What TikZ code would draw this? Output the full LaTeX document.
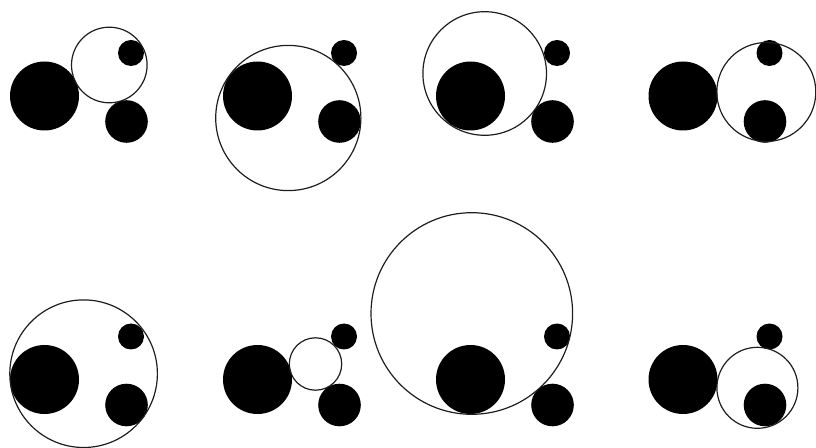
\documentclass[tikz,border=0pt]{standalone}
\usepackage{tikz}
\usepackage{xcolor}

\begin{document}
\begin{tikzpicture}[x=0.75pt,y=0.75pt,yscale=-1,xscale=1,
  blob/.style={fill={rgb, 255:red, 0; green, 0; blue, 0 }, draw=none},
  touching/.style={draw={rgb, 255:red, 30; green, 30; blue, 30 }, line width=0.9pt}]
%set diagram left start at 0, and has height of 448
\useasboundingbox (0,0) rectangle (816,448);

%Panel 1
\fill [blob] (44.5,96) circle [radius=34.5];
\fill [blob] (131,53) circle [radius=13];
\fill [blob] (126.5,121.5) circle [radius=21.3];
\draw [touching] (109.3,65) circle [radius=37.8];

%Panel 2
\fill [blob] (257.5,96) circle [radius=34.5];
\fill [blob] (344,53) circle [radius=13];
\fill [blob] (339.5,121.5) circle [radius=21.3];
\draw [touching] (288.3,118) circle [radius=72.6];

%Panel 3
\fill [blob] (470.5,96) circle [radius=34.5];
\fill [blob] (557,53) circle [radius=13];
\fill [blob] (552.5,121.5) circle [radius=21.3];
\draw [touching] (484.7,73.5) circle [radius=61.8];

%Panel 4
\fill [blob] (683,96) circle [radius=34.5];
\fill [blob] (769.5,53) circle [radius=13];
\fill [blob] (765,121.5) circle [radius=21.3];
\draw [touching] (766.3,92) circle [radius=49.5];

%Panel 5
\fill [blob] (44.5,379.5) circle [radius=34.5];
\fill [blob] (131,336.5) circle [radius=13];
\fill [blob] (126.5,405) circle [radius=21.3];
\draw [touching] (83.6,373.7) circle [radius=73.8];

%Panel 6
\fill [blob] (257.5,379.5) circle [radius=34.5];
\fill [blob] (344,336.5) circle [radius=13];
\fill [blob] (339.5,405) circle [radius=21.3];
\draw [touching] (315.5,364) circle [radius=26.2];

%Panel 7
\fill [blob] (470.5,379.5) circle [radius=34.5];
\fill [blob] (557,336.5) circle [radius=13];
\fill [blob] (552.5,405) circle [radius=21.3];
\draw [touching] (471.8,313.5) circle [radius=100.8];

%Panel 8
\fill [blob] (683,379.5) circle [radius=34.5];
\fill [blob] (769.5,336.5) circle [radius=13];
\fill [blob] (765,405) circle [radius=21.3];
\draw [touching] (757.4,387.8) circle [radius=40.5];

\end{tikzpicture}
\end{document}
